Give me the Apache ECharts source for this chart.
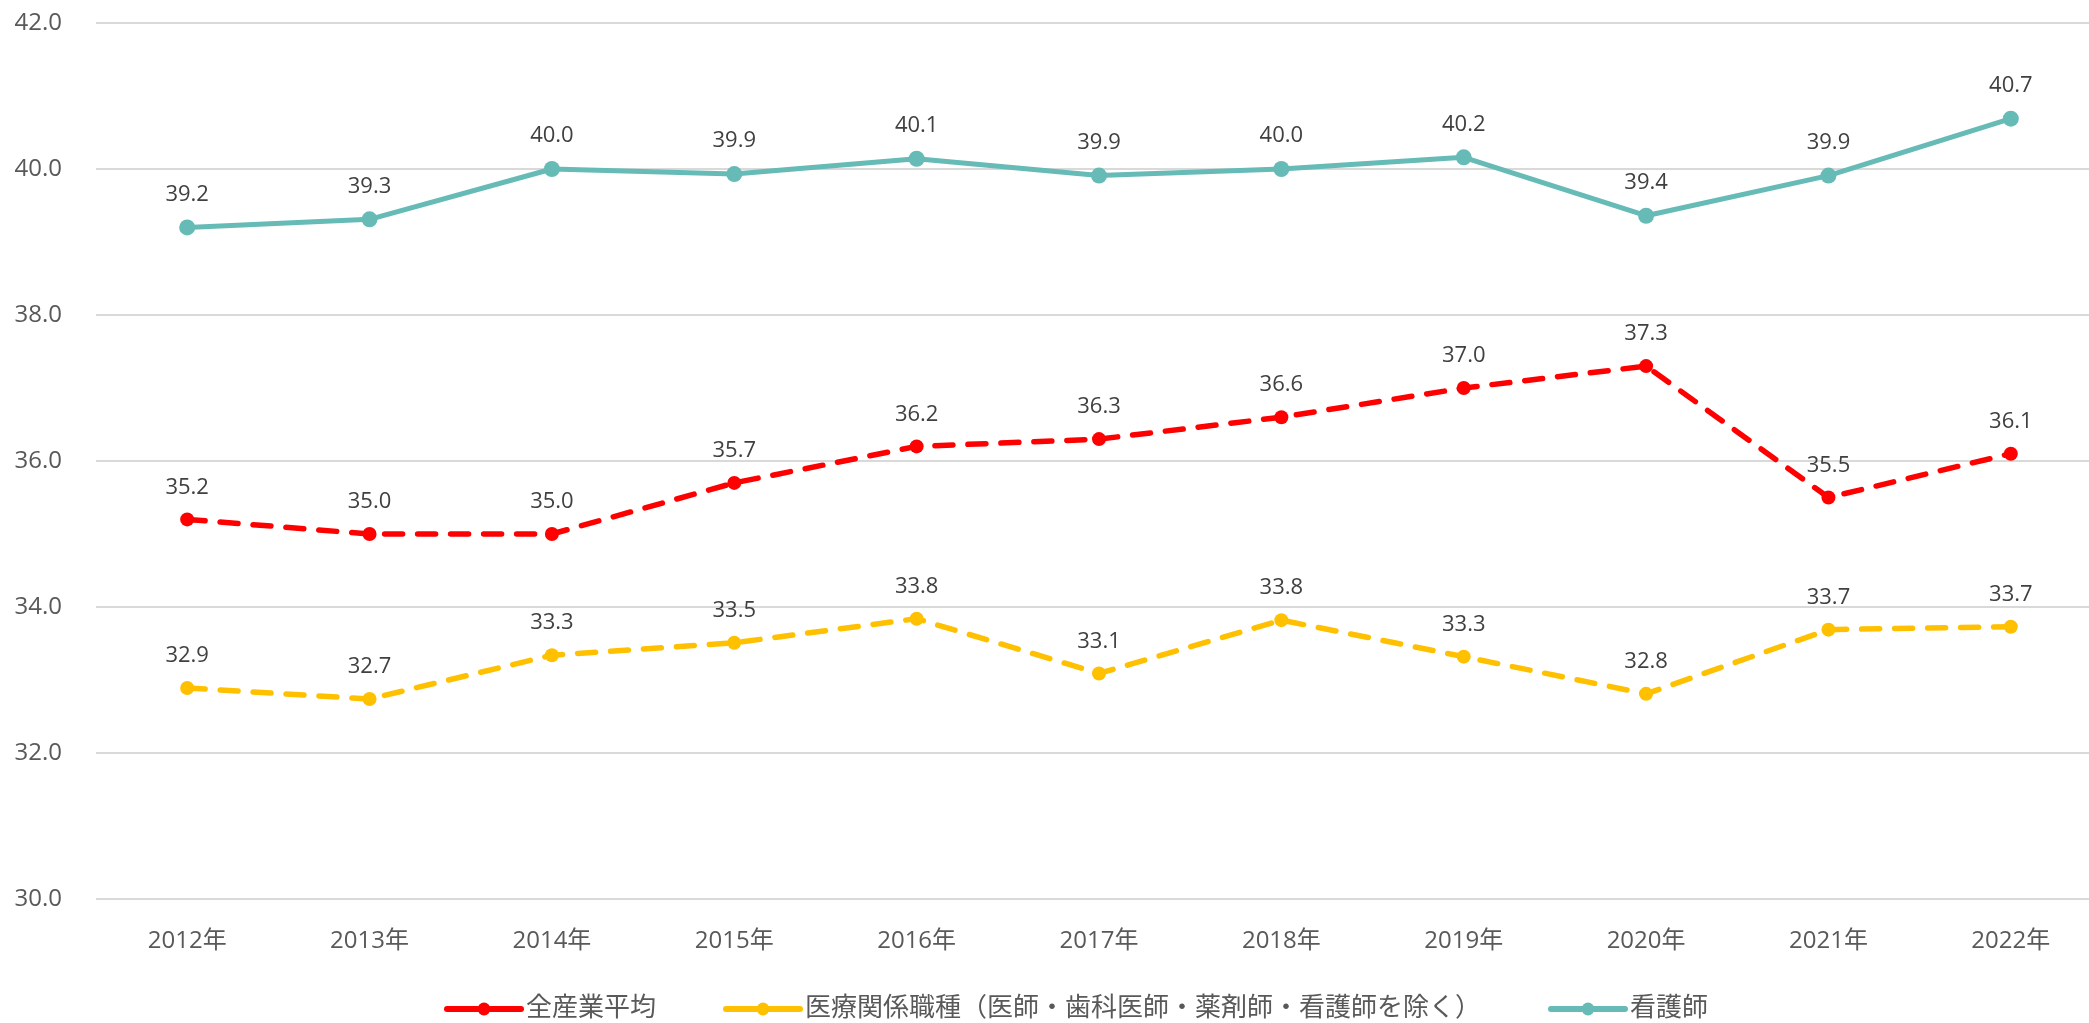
<!DOCTYPE html>
<html>
<head>
<meta charset="utf-8">
<script src="https://cdn.jsdelivr.net/npm/echarts@6/dist/echarts.min.js"></script>
<style>
html,body{margin:0;padding:0;background:#fff;}
#main{width:2089px;height:1023px;}
</style>
</head>
<body>
<div id="main"></div>
<script>
const categories = ['2012年','2013年','2014年','2015年','2016年','2017年','2018年','2019年','2020年','2021年','2022年'];
const allIndustry = [35.2, 35.0, 35.0, 35.7, 36.2, 36.3, 36.6, 37.0, 37.3, 35.5, 36.1];
const medical = [32.89, 32.74, 33.34, 33.51, 33.84, 33.09, 33.82, 33.32, 32.81, 33.69, 33.73];
const nurse = [39.2, 39.31, 40.0, 39.93, 40.14, 39.91, 40.0, 40.16, 39.36, 39.91, 40.69];
const seriesNames = ['全産業平均', '医療関係職種（医師・歯科医師・薬剤師・看護師を除く）', '看護師'];
const yTicks = {min: 30, max: 42, interval: 2};

const FONT = "'Open Sans', 'Noto Sans CJK JP', sans-serif";
const chart = echarts.init(document.getElementById('main'));

function mk(name, data, color, dashed, size) {
  return {
    name: name,
    type: 'line',
    data: data,
    symbol: 'circle',
    symbolSize: size,
    itemStyle: {color: color},
    lineStyle: {color: color, width: dashed ? 5.5 : 5, type: dashed ? [18, 15] : 'solid', cap: 'round', join: 'round'},
    label: {
      show: true,
      position: 'top',
      distance: 14,
      color: '#404040',
      fontFamily: FONT,
      fontSize: 22,
      formatter: p => p.value.toFixed(1)
    },
    animation: false
  };
}

chart.setOption({
  backgroundColor: '#ffffff',
  animation: false,
  grid: {left: 96, width: 2006, top: 23, bottom: 124, containLabel: false, outerBoundsMode: 'none'},
  legend: {
    data: seriesNames,
    bottom: -4,
    left: 439,
    itemWidth: 74,
    itemHeight: 16,
    itemGap: 67,
    lineStyle: {type: 'solid', width: 6, cap: 'round'},
    textStyle: {color: '#595959', fontFamily: FONT, fontSize: 26}
  },
  xAxis: {
    type: 'category',
    data: categories,
    boundaryGap: true,
    axisLine: {show: false},
    axisTick: {show: false},
    axisLabel: {color: '#595959', fontFamily: FONT, fontSize: 24, margin: 30}
  },
  yAxis: {
    type: 'value',
    min: yTicks.min,
    max: yTicks.max,
    interval: yTicks.interval,
    axisLine: {show: false},
    axisTick: {show: false},
    axisLabel: {color: '#595959', fontFamily: FONT, fontSize: 24, margin: 34, formatter: v => v.toFixed(1)},
    splitLine: {lineStyle: {color: '#d9d9d9', width: 2}}
  },
  series: [
    mk(seriesNames[0], allIndustry, '#ff0000', true, 14),
    mk(seriesNames[1], medical, '#ffc000', true, 14),
    mk(seriesNames[2], nurse, '#66bbb7', false, 16)
  ]
});
</script>
</body>
</html>
